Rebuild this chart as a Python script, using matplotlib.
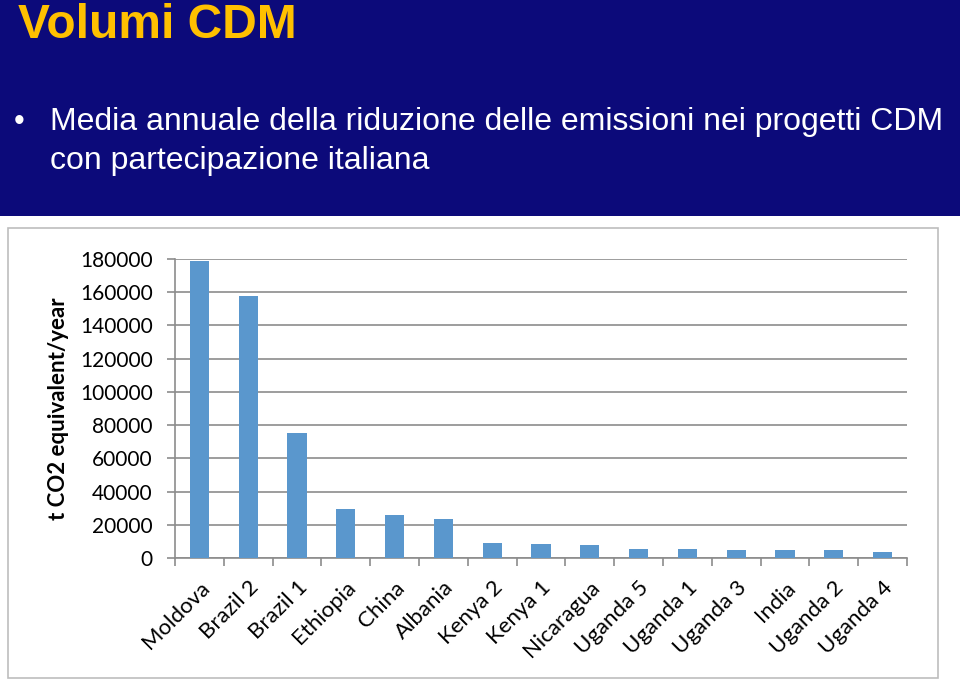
import matplotlib.pyplot as plt
from matplotlib.patches import Rectangle

projects = ["Moldova", "Brazil 2", "Brazil 1", "Ethiopia", "China", "Albania",
            "Kenya 2", "Kenya 1", "Nicaragua", "Uganda 5", "Uganda 1",
            "Uganda 3", "India", "Uganda 2", "Uganda 4"]
reductions = [179000, 157500, 75500, 29300, 25800, 23300,
              9000, 8700, 7800, 5500, 5400, 5100, 4600, 4600, 3900]
y_ticks = [0, 20000, 40000, 60000, 80000, 100000, 120000, 140000, 160000, 180000]

W, H = 960, 681
fig = plt.figure(figsize=(W / 100, H / 100), dpi=100)

# slide header
fig.patches.append(Rectangle((0, 1 - 216 / H), 1, 216 / H, transform=fig.transFigure,
                             facecolor="#0c0a7a", edgecolor="none", zorder=-2))
fig.text(18 / W, 1 - 25 / H, "Volumi CDM", color="#ffc000", fontsize=34.5,
         fontweight="bold", family="Liberation Sans", va="center", ha="left")
fig.text(14 / W, 1 - 122 / H, "\u2022", color="white", fontsize=22,
         family="Liberation Sans", va="center", ha="left")
fig.text(50 / W, 1 - 122 / H, "Media annuale della riduzione delle emissioni nei progetti CDM",
         color="white", fontsize=23, family="Liberation Sans", va="center", ha="left")
fig.text(50 / W, 1 - 161 / H, "con partecipazione italiana",
         color="white", fontsize=23, family="Liberation Sans", va="center", ha="left")

# chart frame
fig.patches.append(Rectangle((8 / W, 1 - 678 / H), 930 / W, 450 / H, transform=fig.transFigure,
                             facecolor="white", edgecolor="#bdbdbd", linewidth=1.2, zorder=-2))

ax = fig.add_axes([175 / W, 1 - 558 / H, (907 - 175) / W, (558 - 259) / H])
ax.set_zorder(2)
ax.patch.set_alpha(0)
x = range(len(projects))
ax.bar(x, reductions, width=0.39, color="#5a97cd", zorder=3)
ax.set_xlim(-0.5, len(projects) - 0.5)
ax.set_ylim(0, 180000)
ax.set_yticks(y_ticks)
ax.set_yticklabels([str(v) for v in y_ticks], family="Lato", fontsize=15)
ax.yaxis.grid(True, color="#8c8c8c", linewidth=1.2, zorder=0)
ax.set_xticks([i + 0.5 for i in range(-1, len(projects))], minor=False)
ax.set_xticklabels([])
ax.set_xticks(list(x), minor=True)
ax.set_xticklabels(projects, minor=True, rotation=45, ha="right", rotation_mode="anchor",
                   family="Lato", fontsize=16)
ax.tick_params(axis="x", which="minor", length=0, pad=14)
ax.tick_params(axis="x", which="major", length=6, color="#8c8c8c", width=1.2)
ax.tick_params(axis="y", length=6, color="#8c8c8c", width=1.2, pad=10, direction="out")
for s in ["top", "right"]:
    ax.spines[s].set_visible(False)
for s in ["left", "bottom"]:
    ax.spines[s].set_color("#8c8c8c")
    ax.spines[s].set_linewidth(1.2)
ax.set_ylabel("t CO2 equivalent/year", family="Lato", fontweight="bold", fontsize=16,
              labelpad=8)

fig.savefig("out.png", dpi=100)
